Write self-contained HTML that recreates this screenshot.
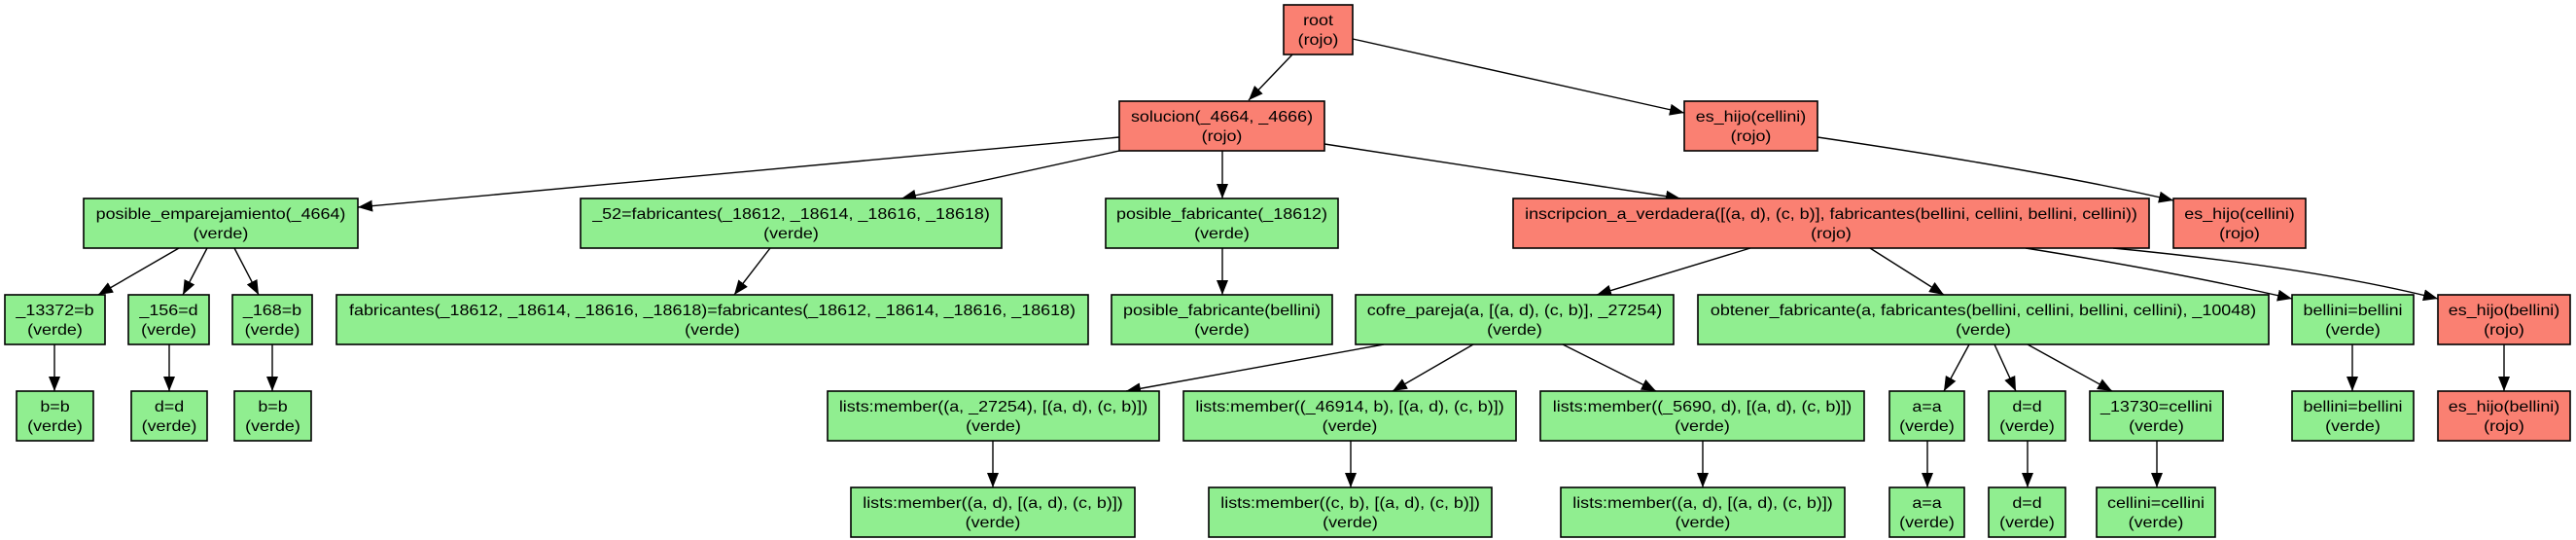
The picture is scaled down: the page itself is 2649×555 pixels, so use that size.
<!DOCTYPE html>
<html><head><meta charset="utf-8"><style>
html,body{margin:0;padding:0;background:#fff;}
svg{display:block;}
text{font-family:"Liberation Sans",Arial,sans-serif;font-size:16px;fill:#000;text-anchor:middle;}
.g{fill:#90EE90;stroke:#000;stroke-width:1.6;}
.r{fill:#FA8072;stroke:#000;stroke-width:1.6;}
.e{stroke:#000;stroke-width:1.4;fill:none;marker-end:url(#ah);}
</style></head><body>
<svg width="2649" height="555" viewBox="0 0 2649 555" xmlns="http://www.w3.org/2000/svg">
<defs><marker id="ah" markerUnits="userSpaceOnUse" markerWidth="16" markerHeight="12" refX="15" refY="6" orient="auto"><path d="M0,0 L15,6 L0,12 Z" fill="#000"/></marker></defs>
<!-- edges -->
<path class="e" d="M1329,56 L1284,103"/>
<path class="e" d="M1391,40 L1732,116"/>
<path class="e" d="M1151,141 L368,213"/>
<path class="e" d="M1151,155 L927,204"/>
<path class="e" d="M1257,155 L1257,204"/>
<path class="e" d="M1362,148 L1728,204"/>
<path class="e" d="M1869,141 Q2100,175 2235,206"/>
<path class="e" d="M184,255 L101,303"/>
<path class="e" d="M213,255 L188,303"/>
<path class="e" d="M241,255 L266,303"/>
<path class="e" d="M792,255 L755,303"/>
<path class="e" d="M1257,255 L1257,303"/>
<path class="e" d="M1800,255 L1642,303"/>
<path class="e" d="M1923,255 L1999,303"/>
<path class="e" d="M2083,255 Q2240,280 2357,307"/>
<path class="e" d="M2173,255 Q2380,275 2507,307"/>
<path class="e" d="M56,354 L56,402"/>
<path class="e" d="M174,354 L174,402"/>
<path class="e" d="M280,354 L280,402"/>
<path class="e" d="M1423,354 L1158,402"/>
<path class="e" d="M1515,354 L1432,402"/>
<path class="e" d="M1607,354 L1703,402"/>
<path class="e" d="M2025,354 L1999,402"/>
<path class="e" d="M2051,354 L2073,402"/>
<path class="e" d="M2085,354 L2172,402"/>
<path class="e" d="M2419,354 L2419,402"/>
<path class="e" d="M2575,354 L2575,402"/>
<path class="e" d="M1021,452 L1021,501"/>
<path class="e" d="M1389,452 L1389,501"/>
<path class="e" d="M1751,452 L1751,501"/>
<path class="e" d="M1982,452 L1982,501"/>
<path class="e" d="M2085,452 L2085,501"/>
<path class="e" d="M2218,452 L2218,501"/>
<!-- row0 -->
<rect class="r" x="1320" y="5" width="71" height="51"/>
<g transform="translate(1355.5,0) scale(1.12,1)"><text x="0" y="26">root</text><text x="0" y="46">(rojo)</text></g>
<!-- row1 -->
<rect class="r" x="1151" y="104" width="211" height="51"/>
<g transform="translate(1256.5,0) scale(1.12,1)"><text x="0" y="125">solucion(_4664, _4666)</text><text x="0" y="145">(rojo)</text></g>
<rect class="r" x="1732" y="104" width="137" height="51"/>
<g transform="translate(1800.5,0) scale(1.12,1)"><text x="0" y="125">es_hijo(cellini)</text><text x="0" y="145">(rojo)</text></g>
<!-- row2 -->
<rect class="g" x="86" y="204" width="282" height="51"/>
<g transform="translate(227,0) scale(1.12,1)"><text x="0" y="225">posible_emparejamiento(_4664)</text><text x="0" y="245">(verde)</text></g>
<rect class="g" x="597" y="204" width="433" height="51"/>
<g transform="translate(813.5,0) scale(1.12,1)"><text x="0" y="225">_52=fabricantes(_18612, _18614, _18616, _18618)</text><text x="0" y="245">(verde)</text></g>
<rect class="g" x="1137" y="204" width="239" height="51"/>
<g transform="translate(1256.5,0) scale(1.12,1)"><text x="0" y="225">posible_fabricante(_18612)</text><text x="0" y="245">(verde)</text></g>
<rect class="r" x="1556" y="204" width="654" height="51"/>
<g transform="translate(1883,0) scale(1.12,1)"><text x="0" y="225">inscripcion_a_verdadera([(a, d), (c, b)], fabricantes(bellini, cellini, bellini, cellini))</text><text x="0" y="245">(rojo)</text></g>
<rect class="r" x="2235" y="204" width="136" height="51"/>
<g transform="translate(2303,0) scale(1.12,1)"><text x="0" y="225">es_hijo(cellini)</text><text x="0" y="245">(rojo)</text></g>
<!-- row3 -->
<rect class="g" x="5" y="303" width="103" height="51"/>
<g transform="translate(56.5,0) scale(1.12,1)"><text x="0" y="324">_13372=b</text><text x="0" y="344">(verde)</text></g>
<rect class="g" x="132" y="303" width="83" height="51"/>
<g transform="translate(173.5,0) scale(1.12,1)"><text x="0" y="324">_156=d</text><text x="0" y="344">(verde)</text></g>
<rect class="g" x="239" y="303" width="82" height="51"/>
<g transform="translate(280,0) scale(1.12,1)"><text x="0" y="324">_168=b</text><text x="0" y="344">(verde)</text></g>
<rect class="g" x="346" y="303" width="773" height="51"/>
<g transform="translate(732.5,0) scale(1.12,1)"><text x="0" y="324">fabricantes(_18612, _18614, _18616, _18618)=fabricantes(_18612, _18614, _18616, _18618)</text><text x="0" y="344">(verde)</text></g>
<rect class="g" x="1143" y="303" width="227" height="51"/>
<g transform="translate(1256.5,0) scale(1.12,1)"><text x="0" y="324">posible_fabricante(bellini)</text><text x="0" y="344">(verde)</text></g>
<rect class="g" x="1394" y="303" width="327" height="51"/>
<g transform="translate(1557.5,0) scale(1.12,1)"><text x="0" y="324">cofre_pareja(a, [(a, d), (c, b)], _27254)</text><text x="0" y="344">(verde)</text></g>
<rect class="g" x="1746" y="303" width="587" height="51"/>
<g transform="translate(2039.5,0) scale(1.12,1)"><text x="0" y="324">obtener_fabricante(a, fabricantes(bellini, cellini, bellini, cellini), _10048)</text><text x="0" y="344">(verde)</text></g>
<rect class="g" x="2357" y="303" width="125" height="51"/>
<g transform="translate(2419.5,0) scale(1.12,1)"><text x="0" y="324">bellini=bellini</text><text x="0" y="344">(verde)</text></g>
<rect class="r" x="2507" y="303" width="136" height="51"/>
<g transform="translate(2575,0) scale(1.12,1)"><text x="0" y="324">es_hijo(bellini)</text><text x="0" y="344">(rojo)</text></g>
<!-- row4 -->
<rect class="g" x="17" y="402" width="79" height="51"/>
<g transform="translate(56.5,0) scale(1.12,1)"><text x="0" y="423">b=b</text><text x="0" y="443">(verde)</text></g>
<rect class="g" x="135" y="402" width="78" height="51"/>
<g transform="translate(174,0) scale(1.12,1)"><text x="0" y="423">d=d</text><text x="0" y="443">(verde)</text></g>
<rect class="g" x="241" y="402" width="79" height="51"/>
<g transform="translate(280.5,0) scale(1.12,1)"><text x="0" y="423">b=b</text><text x="0" y="443">(verde)</text></g>
<rect class="g" x="851" y="402" width="341" height="51"/>
<g transform="translate(1021.5,0) scale(1.12,1)"><text x="0" y="423">lists:member((a, _27254), [(a, d), (c, b)])</text><text x="0" y="443">(verde)</text></g>
<rect class="g" x="1217" y="402" width="342" height="51"/>
<g transform="translate(1388,0) scale(1.12,1)"><text x="0" y="423">lists:member((_46914, b), [(a, d), (c, b)])</text><text x="0" y="443">(verde)</text></g>
<rect class="g" x="1584" y="402" width="333" height="51"/>
<g transform="translate(1750.5,0) scale(1.12,1)"><text x="0" y="423">lists:member((_5690, d), [(a, d), (c, b)])</text><text x="0" y="443">(verde)</text></g>
<rect class="g" x="1943" y="402" width="77" height="51"/>
<g transform="translate(1981.5,0) scale(1.12,1)"><text x="0" y="423">a=a</text><text x="0" y="443">(verde)</text></g>
<rect class="g" x="2045" y="402" width="79" height="51"/>
<g transform="translate(2084.5,0) scale(1.12,1)"><text x="0" y="423">d=d</text><text x="0" y="443">(verde)</text></g>
<rect class="g" x="2149" y="402" width="137" height="51"/>
<g transform="translate(2217.5,0) scale(1.12,1)"><text x="0" y="423">_13730=cellini</text><text x="0" y="443">(verde)</text></g>
<rect class="g" x="2357" y="402" width="125" height="51"/>
<g transform="translate(2419.5,0) scale(1.12,1)"><text x="0" y="423">bellini=bellini</text><text x="0" y="443">(verde)</text></g>
<rect class="r" x="2507" y="402" width="136" height="51"/>
<g transform="translate(2575,0) scale(1.12,1)"><text x="0" y="423">es_hijo(bellini)</text><text x="0" y="443">(rojo)</text></g>
<!-- row5 -->
<rect class="g" x="875" y="501" width="292" height="51"/>
<g transform="translate(1021,0) scale(1.12,1)"><text x="0" y="522">lists:member((a, d), [(a, d), (c, b)])</text><text x="0" y="542">(verde)</text></g>
<rect class="g" x="1243" y="501" width="291" height="51"/>
<g transform="translate(1388.5,0) scale(1.12,1)"><text x="0" y="522">lists:member((c, b), [(a, d), (c, b)])</text><text x="0" y="542">(verde)</text></g>
<rect class="g" x="1605" y="501" width="292" height="51"/>
<g transform="translate(1751,0) scale(1.12,1)"><text x="0" y="522">lists:member((a, d), [(a, d), (c, b)])</text><text x="0" y="542">(verde)</text></g>
<rect class="g" x="1943" y="501" width="77" height="51"/>
<g transform="translate(1981.5,0) scale(1.12,1)"><text x="0" y="522">a=a</text><text x="0" y="542">(verde)</text></g>
<rect class="g" x="2045" y="501" width="79" height="51"/>
<g transform="translate(2084.5,0) scale(1.12,1)"><text x="0" y="522">d=d</text><text x="0" y="542">(verde)</text></g>
<rect class="g" x="2156" y="501" width="122" height="51"/>
<g transform="translate(2217,0) scale(1.12,1)"><text x="0" y="522">cellini=cellini</text><text x="0" y="542">(verde)</text></g>
</svg>
</body></html>
